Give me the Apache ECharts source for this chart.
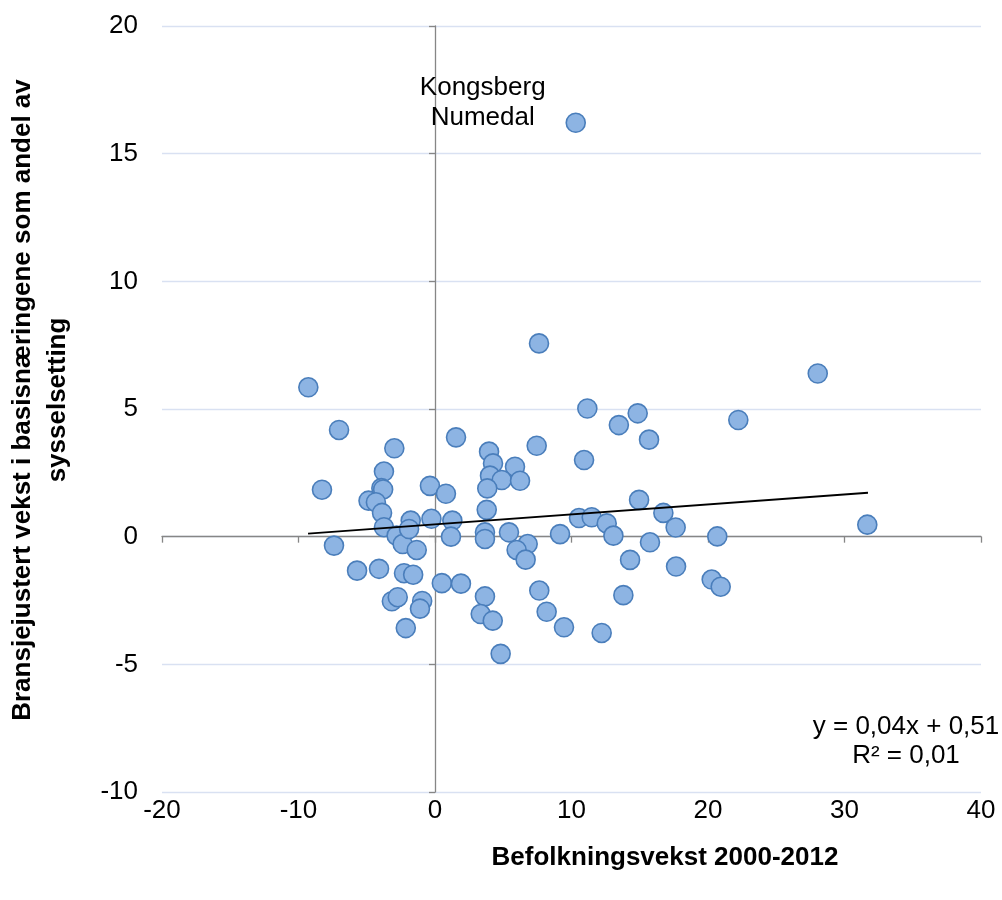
<!DOCTYPE html>
<html>
<head>
<meta charset="utf-8">
<script src="https://cdn.jsdelivr.net/npm/echarts@6/dist/echarts.min.js"></script>
<style>
  html, body { margin: 0; padding: 0; background: #fff; }
  #chart { width: 1002px; height: 900px; }
</style>
</head>
<body>
<div id="chart"></div>
<script>
// ---- Data ----
const xValues = [
  -9.28, -7.03, -8.28, -7.40, -5.71, -4.10, -3.74, -2.98, -3.93, -3.80,
  -4.87, -4.33, -3.88, -3.74, -2.81, -2.37, -1.78, -1.90, -1.34, -2.27,
  -1.60, -3.16, -2.73, -0.94, -1.10, -2.14, -0.37, -0.26, 0.80, 1.54,
  1.27, 1.17, 0.50, 1.90, 3.96, 4.25, 5.86, 4.03, 4.89, 6.23,
  3.83, 3.79, 3.66, 3.66, 5.42, 6.79, 5.98, 6.64, 9.16, 10.55,
  11.48, 12.58, 13.07, 14.29, 3.66, 3.35, 4.23, 4.81, 7.64, 8.18,
  9.45, 12.21, 13.80, 7.62, 11.16, 13.47, 14.85, 15.68, 22.22, 7.45,
  10.92, 14.95, 16.73, 17.63, 15.75, 20.68, 17.66, 20.27, 20.93, 28.04,
  31.67, 10.31
];
const yValues = [
  5.85, 4.18, 1.84, -0.35, -1.33, -1.26, 2.55, 3.46, 1.90, 1.85,
  1.41, 1.35, 0.93, 0.37, 0.04, -0.29, 0.63, 0.30, -0.52, -1.43,
  -1.49, -2.53, -2.37, -2.52, -2.82, -3.58, 1.99, 0.70, 1.68, 3.89,
  0.63, 0.00, -1.82, -1.84, 3.33, 2.87, 2.74, 2.39, 2.22, 2.19,
  1.89, 1.05, 0.17, -0.09, 0.17, -0.29, -0.52, -0.90, 0.10, 0.73,
  0.76, 0.52, 0.04, -0.91, -2.34, -3.03, -3.29, -4.59, -2.11, -2.94,
  -3.55, -3.77, -2.29, 7.57, 5.02, 4.37, 4.83, 3.80, 4.57, 3.56,
  3.00, 1.44, 0.93, 0.36, -0.22, 0.01, -1.17, -1.68, -1.96, 6.39,
  0.47, 16.21
];
const annotatedIndex = 81;
const annotatedText = 'Kongsberg\nNumedal';
const trendX = [-9.30, 31.72];
const trendY = [0.12, 1.72];
const equationText = 'y = 0,04x + 0,51\nR² = 0,01';
const xTitle = 'Befolkningsvekst 2000-2012';
const yTitle = 'Bransjejustert vekst i basisnæringene som andel av\nsysselsetting';
const xMin = -20, xMax = 40, xStep = 10;
const yMin = -10, yMax = 20, yStep = 5;

// ---- Chart ----
const FONT = "'Liberation Sans', Arial, sans-serif";
const chart = echarts.init(document.getElementById('chart'), null, { renderer: 'canvas' });

const scatterData = xValues.map((x, i) => {
  const item = { value: [x, yValues[i]] };
  if (i === annotatedIndex) {
    item.label = {
      show: true,
      formatter: annotatedText,
      position: 'inside',
      offset: [-93, -20],
      color: '#000',
      fontSize: 26,
      fontFamily: FONT,
      lineHeight: 30,
      align: 'center',
      verticalAlign: 'middle'
    };
  }
  return item;
});

const axisGray = '#868686';
const labelStyle = { color: '#000', fontSize: 26, fontFamily: FONT };

const option = {
  animation: false,
  backgroundColor: '#fff',
  grid: { left: 162, right: 21, top: 26, bottom: 108, containLabel: false },
  xAxis: [
    {
      type: 'value', min: xMin, max: xMax, interval: xStep, position: 'bottom',
      axisLine: { show: false, onZero: false },
      axisTick: { show: false },
      splitLine: { show: false },
      axisLabel: Object.assign({ margin: 6 }, labelStyle)
    },
    {
      type: 'value', min: xMin, max: xMax, interval: xStep, position: 'top',
      axisLine: { show: true, onZero: true, onZeroAxisIndex: 0, lineStyle: { color: axisGray, width: 1.3 } },
      axisTick: { show: true, inside: true, length: 6, lineStyle: { color: axisGray, width: 1.3 } },
      axisLabel: { show: false },
      splitLine: { show: false }
    }
  ],
  yAxis: [
    {
      type: 'value', min: yMin, max: yMax, interval: yStep, position: 'left',
      axisLine: { show: false, onZero: false },
      axisTick: { show: false },
      splitLine: { show: true, lineStyle: { color: '#D9E1F2', width: 1.3 } },
      axisLabel: Object.assign({ margin: 24 }, labelStyle)
    },
    {
      type: 'value', min: yMin, max: yMax, interval: yStep, position: 'right',
      axisLine: { show: true, onZero: true, onZeroAxisIndex: 0, lineStyle: { color: axisGray, width: 1.3 } },
      axisTick: { show: true, inside: true, length: 6, lineStyle: { color: axisGray, width: 1.3 } },
      axisLabel: { show: false },
      splitLine: { show: false }
    }
  ],
  series: [
    {
      type: 'scatter',
      xAxisIndex: 0, yAxisIndex: 0,
      symbol: 'circle',
      symbolSize: 19,
      itemStyle: { color: '#8DB4E3', borderColor: '#4A7EBB', borderWidth: 1.6, opacity: 1 },
      data: scatterData,
      z: 3
    },
    {
      type: 'line',
      xAxisIndex: 0, yAxisIndex: 0,
      data: trendX.map((x, i) => [x, trendY[i]]),
      symbol: 'none',
      lineStyle: { color: '#000', width: 1.8 },
      silent: true,
      z: 4
    }
  ],
  graphic: [
    {
      type: 'text', x: 665, y: 858,
      style: { text: xTitle, font: "bold 26px " + FONT, fill: '#000', textAlign: 'center', textVerticalAlign: 'middle' }
    },
    {
      type: 'text', x: 40, y: 400, rotation: Math.PI / 2,
      style: { text: yTitle, font: "bold 26px " + FONT, fill: '#000', textAlign: 'center', textVerticalAlign: 'middle', lineHeight: 35 }
    },
    {
      type: 'text', x: 906, y: 741,
      style: { text: equationText, font: "26px " + FONT, fill: '#000', textAlign: 'center', textVerticalAlign: 'middle', lineHeight: 29 }
    }
  ]
};
chart.setOption(option);
</script>
</body>
</html>
